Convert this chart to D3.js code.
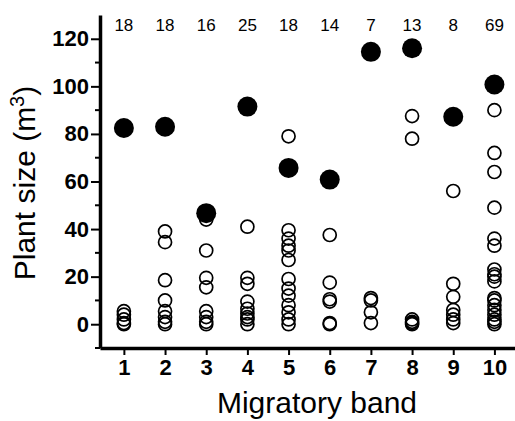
<!DOCTYPE html>
<html>
<head>
<meta charset="utf-8">
<script src="https://cdn.jsdelivr.net/npm/d3@7"></script>
<style>
  body { margin: 0; background: #fff; }
  svg { display: block; }
</style>
</head>
<body>
<svg id="chart" width="515" height="421"></svg>
<script>
'use strict';

// migratory bands and sample sizes shown over each column
var bands = [1, 2, 3, 4, 5, 6, 7, 8, 9, 10];
var counts = [18, 18, 16, 25, 18, 14, 7, 13, 8, 69];

// filled dot per band
var bigValues = [82.5, 83, 46.7, 91.5, 65.7, 60.8, 114.5, 116, 87.2, 100.8];

// open dots per band
var smallValues = [
  [5.5, 4, 2, 0.5, 0],
  [39, 34.5, 18.5, 10, 5.5, 3, 1, 0],
  [44, 31, 19.5, 15.5, 5.5, 3, 1, 0],
  [41, 19.5, 17, 9.5, 6.5, 4.5, 3, 2, 0],
  [79, 39.5, 36, 33, 31, 27, 19, 15, 12, 8, 5, 2, 0],
  [37.5, 17.5, 10.5, 9.5, 0.5, 0],
  [11, 10, 5, 0.5],
  [87.5, 78, 2, 1, 0.5, 0],
  [56, 17, 11.5, 6, 4, 2, 0.5],
  [90, 72, 64, 49, 36, 33, 23, 21, 20, 18, 11, 10, 8, 6, 4, 2, 1, 0]
];

var yMajor = [0, 20, 40, 60, 80, 100, 120];
var yMinor = [-10, 10, 30, 50, 70, 90, 110];

var svg = d3.select('#chart');

var x = d3.scaleLinear().domain([0.42, 10.5]).range([100, 515]);
var y = d3.scaleLinear().domain([-10, 130]).range([348, 15]);

var open = [];
smallValues.forEach(function(list, i) {
  list.forEach(function(v) { open.push({band: bands[i], value: v}); });
});

// open circles
svg.append('g').selectAll('circle')
  .data(open)
  .enter().append('circle')
  .attr('cx', d => x(d.band))
  .attr('cy', d => y(d.value))
  .attr('r', 6.5)
  .attr('fill', 'none')
  .attr('stroke', '#000')
  .attr('stroke-width', 1.7);

// filled circles
svg.append('g').selectAll('circle')
  .data(bigValues)
  .enter().append('circle')
  .attr('cx', (d, i) => x(bands[i]))
  .attr('cy', d => y(d))
  .attr('r', 10)
  .attr('fill', '#000');

// x axis
var xAxis = svg.append('g')
  .attr('transform', 'translate(0,' + y.range()[0] + ')')
  .call(d3.axisBottom(x).tickValues(bands).tickSize(7).tickSizeOuter(0).tickPadding(4).tickFormat(d3.format('d')));
xAxis.select('.domain').attr('stroke-width', 3.5);
xAxis.selectAll('.tick line').attr('stroke-width', 2);
xAxis.selectAll('.tick text')
  .attr('font-family', 'Liberation Sans, Arial, sans-serif')
  .attr('font-weight', 'bold')
  .attr('font-size', 22)
  .attr('fill', '#000');

// y axis
var yAxis = svg.append('g')
  .attr('transform', 'translate(' + x.range()[0] + ',0)')
  .call(d3.axisLeft(y).tickValues(yMajor).tickSize(9).tickSizeOuter(0).tickPadding(2));
yAxis.select('.domain').attr('stroke-width', 3.5);
yAxis.selectAll('.tick line').attr('stroke-width', 2);
yAxis.selectAll('.tick text')
  .attr('font-family', 'Liberation Sans, Arial, sans-serif')
  .attr('font-weight', 'bold')
  .attr('font-size', 22)
  .attr('fill', '#000');

svg.append('g').selectAll('line')
  .data(yMinor)
  .enter().append('line')
  .attr('x1', x.range()[0] - 5)
  .attr('x2', x.range()[0])
  .attr('y1', d => y(d))
  .attr('y2', d => y(d))
  .attr('stroke', '#000')
  .attr('stroke-width', 2);

// sample sizes
svg.append('g').selectAll('text')
  .data(counts)
  .enter().append('text')
  .attr('x', (d, i) => x(bands[i]))
  .attr('y', 31)
  .attr('text-anchor', 'middle')
  .attr('font-family', 'Liberation Sans, Arial, sans-serif')
  .attr('font-size', 17)
  .text(d => d);

// axis titles
svg.append('text')
  .attr('x', 317)
  .attr('y', 413)
  .attr('text-anchor', 'middle')
  .attr('font-family', 'Liberation Sans, Arial, sans-serif')
  .attr('font-size', 30)
  .text('Migratory band');

var yTitle = svg.append('text')
  .attr('transform', 'translate(35,183)rotate(-90)')
  .attr('text-anchor', 'middle')
  .attr('font-family', 'Liberation Sans, Arial, sans-serif')
  .attr('font-size', 30);
yTitle.append('tspan').text('Plant size (m');
yTitle.append('tspan').attr('font-size', 20).attr('dy', -11).text('3');
yTitle.append('tspan').attr('dy', 11).text(')');
</script>
</body>
</html>
